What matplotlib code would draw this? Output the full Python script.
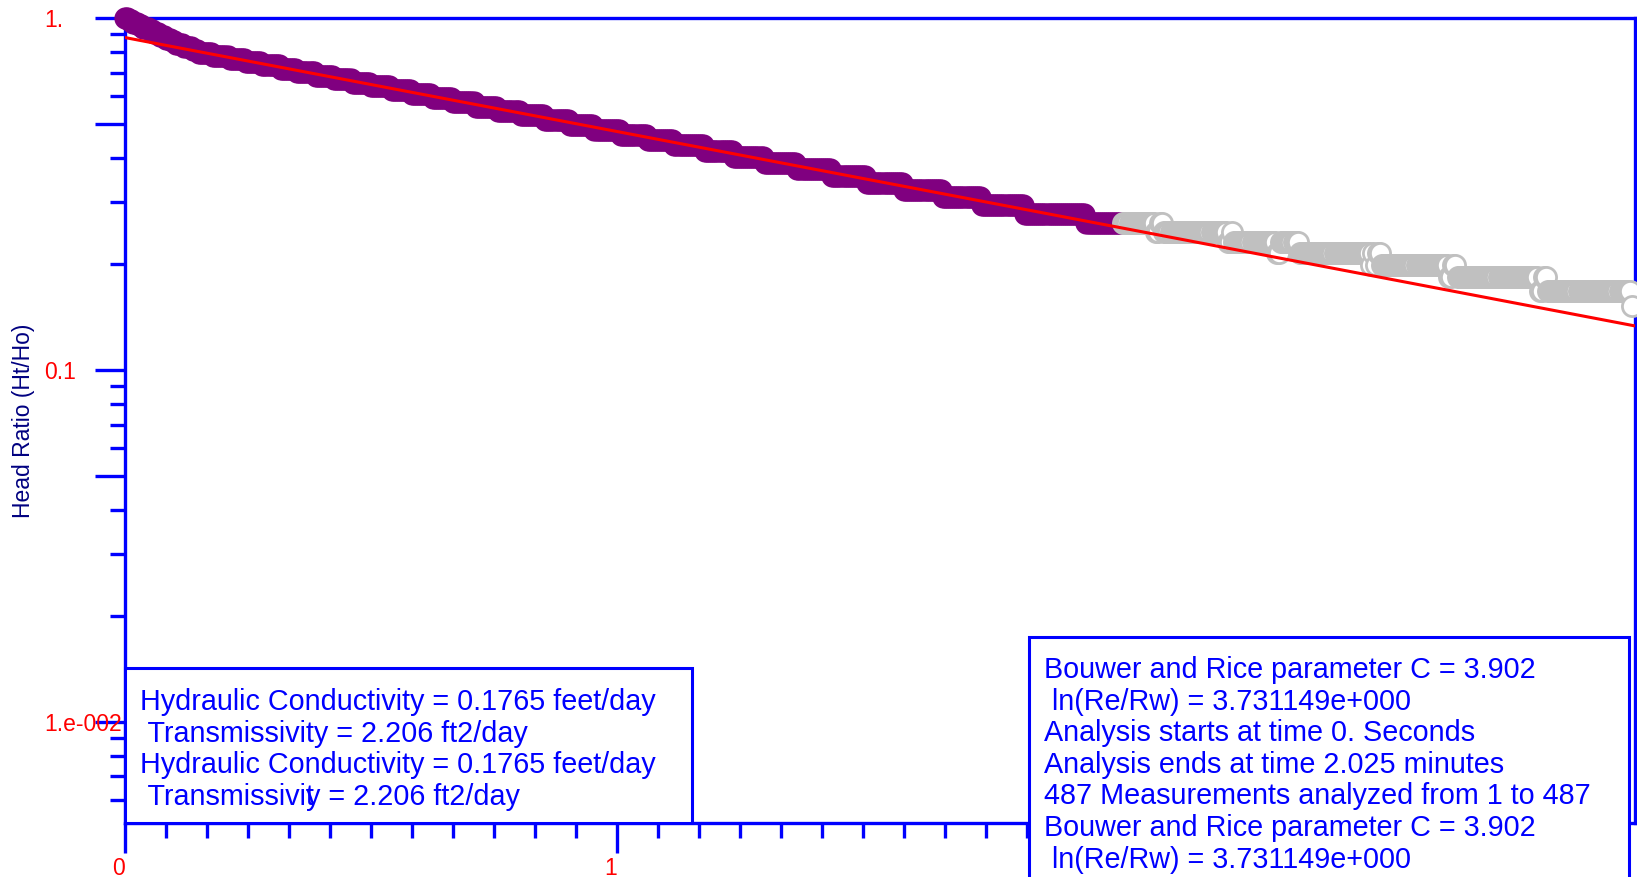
import matplotlib
matplotlib.use('Agg')
import matplotlib.pyplot as plt
from matplotlib.patches import Rectangle
from matplotlib.text import Annotation
from matplotlib.ticker import MultipleLocator, LogLocator, NullFormatter
import numpy as np

plt.rcParams['font.family'] = ['Liberation Sans', 'DejaVu Sans']

# logger interval and how many samples went into the analysis
sample_sec = 0.25
n_analyzed = 487

# head ratio levels as logged, with the number of samples held at each level
run_ratio = [1.0000, 0.9843, 0.9686, 0.9529, 0.9372, 0.9215, 0.9058, 0.8901, 0.8744, 0.8587,
             0.8430, 0.8273, 0.8116, 0.7959, 0.7802, 0.7645, 0.7488, 0.7331, 0.7174, 0.7017,
             0.6860, 0.6703, 0.6546, 0.6389, 0.6232, 0.6075, 0.5918, 0.5761, 0.5604, 0.5447,
             0.5290, 0.5133, 0.4976, 0.4819, 0.4662, 0.4505, 0.4348, 0.4191, 0.4034, 0.3877,
             0.3720, 0.3563, 0.3406, 0.3249, 0.3092, 0.2935, 0.2778, 0.2621,
             # after the analysis window
             0.2621, 0.2464, 0.2621, 0.2464, 0.2307, 0.2464, 0.2307, 0.2150, 0.2307, 0.2150,
             0.1993, 0.2150, 0.1993, 0.2150, 0.1993, 0.1836, 0.1993, 0.1836, 0.1679, 0.1836,
             0.1679, 0.1522]
run_count = [2, 2, 3, 2, 3, 2, 3, 3, 3, 2,
             4, 4, 3, 7, 8, 8, 8, 9, 8, 9,
             9, 9, 9, 10, 10, 10, 10, 11, 11, 11,
             12, 12, 12, 13, 13, 13, 15, 14, 15, 16,
             17, 17, 18, 19, 19, 21, 30, 18,
             16, 2, 2, 31, 2, 1, 21, 2, 9, 35,
             1, 1, 1, 2, 33, 2, 2, 40, 2, 2,
             41, 1]

# straight-line fit (minutes, head ratio)
fit_time = [0.0, 3.069]
fit_ratio = [0.88, 0.1334]

y_ticks = [1.0, 0.5, 0.1, 0.05, 0.01]
y_ticklabels = ['1.', '', '0.1', '', '1.e-002']
x_ticks = [0, 1, 2, 3]
x_ticklabels = ['0', '1', '', '']   # 2 and 3 sit under the results box

left_lines = ['Hydraulic Conductivity = 0.1765 feet/day',
              ' Transmissivity = 2.206 ft2/day',
              'Hydraulic Conductivity = 0.1765 feet/day']
right_lines = ['Bouwer and Rice parameter C = 3.902',
               ' ln(Re/Rw) = 3.731149e+000',
               'Analysis starts at time 0. Seconds',
               'Analysis ends at time 2.025 minutes',
               '487 Measurements analyzed from 1 to 487',
               'Bouwer and Rice parameter C = 3.902',
               ' ln(Re/Rw) = 3.731149e+000']

ratio = np.repeat(run_ratio, run_count)
t_min = np.arange(len(ratio)) * sample_sec / 60.0

W, H = 1637, 877
def fx(px):
    return px / W
def fy(py):
    return 1 - py / H

blue = '#0000FF'
fig = plt.figure(figsize=(W / 100, H / 100), dpi=100)
ax = fig.add_axes([fx(125), fy(823), fx(1635) - fx(125), fy(18) - fy(823)])

ax.plot(t_min[:n_analyzed], ratio[:n_analyzed], 'o', ms=15, color='#800080',
        mec='#800080', clip_on=False, zorder=3)
ax.plot(t_min[n_analyzed:], ratio[n_analyzed:], 'o', ms=14.5, mfc='white',
        mec='#C0C0C0', mew=2, clip_on=False, zorder=3)
ax.plot(fit_time, fit_ratio, color='red', lw=2.2, zorder=4)

ax.set_yscale('log')
ax.set_ylim(0.005164, 1.0)
ax.set_xlim(0, 3.069)

ax.set_yticks(y_ticks, y_ticklabels)
ax.yaxis.set_minor_locator(LogLocator(base=10, subs=[2, 3, 4, 6, 7, 8, 9], numticks=20))
ax.yaxis.set_minor_formatter(NullFormatter())
ax.set_xticks(x_ticks, x_ticklabels)
ax.xaxis.set_minor_locator(MultipleLocator(1 / 12))

ax.tick_params(which='both', direction='out', color=blue, width=2.4,
               labelcolor='red', labelsize=16.5)
ax.tick_params(which='major', length=21.6)
ax.tick_params(which='minor', length=11)
ax.tick_params(axis='y', which='major', pad=36.7)
ax.tick_params(axis='x', which='major', pad=3)
for lbl in ax.get_yticklabels():
    lbl.set_ha('left')
for lbl in ax.get_xticklabels():
    lbl.set_ha('right')

for sp in ax.spines.values():
    sp.set_color(blue)
    sp.set_linewidth(2.4)

fig.text(fx(24), fy(421), 'Head Ratio (Ht/Ho)', rotation=90, ha='center', va='center',
         color='#000080', fontsize=16.5)

# result boxes
fig.add_artist(Rectangle((fx(125), fy(823)), fx(692) - fx(125), fy(668) - fy(823),
                         transform=fig.transFigure, fc='white', ec=blue, lw=2.2, zorder=5))
fig.add_artist(Rectangle((fx(1029), fy(900)), fx(1629) - fx(1029), fy(637) - fy(900),
                         transform=fig.transFigure, fc='white', ec=blue, lw=2.2, zorder=5))

box_font = 20.7
for i, line in enumerate(left_lines):
    fig.text(fx(140), fy(710 + 31.6 * i), line, fontsize=box_font, color=blue,
             va='baseline', zorder=6)
# last line is drawn with the "y" landing on top of the "t"
t1 = fig.text(fx(140), fy(805), ' Transmissivit', fontsize=box_font, color=blue,
              va='baseline', zorder=6)
fig.add_artist(Annotation('y = 2.206 ft2/day', xy=(1, 0), xycoords=t1, xytext=(-8, 0),
                          textcoords='offset pixels', ha='left', va='bottom',
                          fontsize=box_font, color=blue, zorder=6))

for i, line in enumerate(right_lines):
    fig.text(fx(1044), fy(678 + 31.6 * i), line, fontsize=box_font, color=blue,
             va='baseline', zorder=6)

fig.savefig('out.png', dpi=100)
